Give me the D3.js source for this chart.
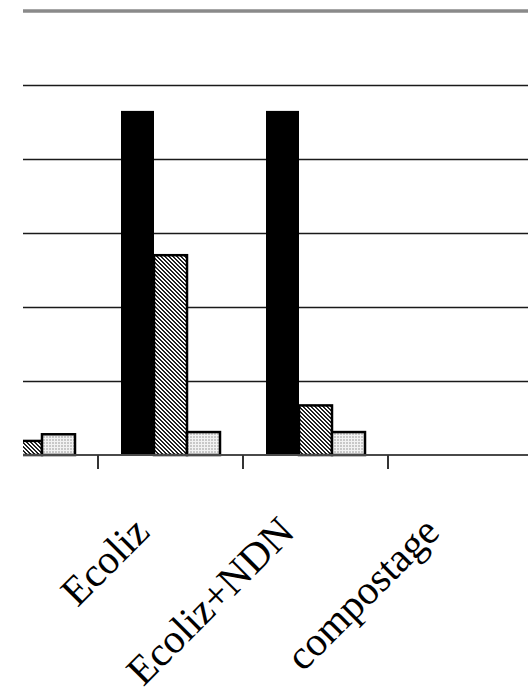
<!DOCTYPE html>
<html><head><meta charset="utf-8">
<script src="https://cdn.jsdelivr.net/npm/d3@7"></script>
<style>body{margin:0;background:#fff} svg{display:block}</style>
</head><body>
<script>
// Data (values in gridline units; the value axis labels are not visible in the picture)
const categories = ["témoin", "Ecoliz", "Ecoliz+NDN", "compostage"];
const tickLabels = ["", "Ecoliz", "Ecoliz+NDN", "compostage"];
const seriesNames = ["série 1", "série 2", "série 3"];
const serie1 = [0, 4.65, 4.65, 0];
const serie2 = [0.19, 2.70, 0.67, 0];
const serie3 = [0.28, 0.31, 0.31, 0];
const yTicks = [1, 2, 3, 4, 5];
const yMax = 6;

const W = 528, H = 696;
const plot = {left: 23, right: 528, top: 11, bottom: 455};

const svg = d3.select("body").append("svg").attr("width", W).attr("height", H);
const defs = svg.append("defs");

// dark diagonal hatch
const p1 = defs.append("pattern").attr("id", "hatch").attr("patternUnits", "userSpaceOnUse")
  .attr("width", 4).attr("height", 4);
p1.append("rect").attr("width", 4).attr("height", 4).attr("fill", "#fff");
for (let yy = 0; yy < 4; yy++) for (let xx = 0; xx < 4; xx++) {
  const m = ((xx - yy) % 4 + 4) % 4;
  if (m === 0 || m === 1) p1.append("rect").attr("x", xx).attr("y", yy).attr("width", 1).attr("height", 1).attr("fill", "#222");
}
// light dotted
const p2 = defs.append("pattern").attr("id", "dots").attr("patternUnits", "userSpaceOnUse")
  .attr("width", 3).attr("height", 3);
p2.append("rect").attr("width", 3).attr("height", 3).attr("fill", "#c8c8c8");
p2.append("rect").attr("width", 3).attr("height", 1).attr("fill", "#f2f2f2");
p2.append("rect").attr("width", 1).attr("height", 3).attr("fill", "#f2f2f2");

defs.append("clipPath").attr("id", "clip").append("rect")
  .attr("x", plot.left).attr("y", 0).attr("width", plot.right - plot.left).attr("height", plot.bottom + 20);

const x = d3.scaleBand().domain(categories).range([-47, 533]).paddingInner(0).paddingOuter(0);
const xs = d3.scaleBand().domain(seriesNames).range([0, x.bandwidth()]).paddingInner(0).paddingOuter(0.697);
const y = d3.scaleLinear().domain([0, yMax]).range([plot.bottom, plot.top]);

const g = svg.append("g").attr("clip-path", "url(#clip)");

// gridlines
g.selectAll("line.grid").data(yTicks).join("line")
  .attr("x1", plot.left).attr("x2", plot.right)
  .attr("y1", d => Math.round(y(d)) + 0.5).attr("y2", d => Math.round(y(d)) + 0.5)
  .attr("stroke", "#1a1a1a").attr("stroke-width", 1.4);
// top border
g.append("line").attr("x1", plot.left).attr("x2", plot.right)
  .attr("y1", y(yMax)).attr("y2", y(yMax))
  .attr("stroke", "#8a8a8a").attr("stroke-width", 3.5);

const series = [
  {name: seriesNames[0], values: serie1, fill: "#000", stroke: "#000", sw: 0},
  {name: seriesNames[1], values: serie2, fill: "url(#hatch)", stroke: "#000", sw: 2.5},
  {name: seriesNames[2], values: serie3, fill: "url(#dots)", stroke: "#000", sw: 2.5}
];

series.forEach(s => {
  g.selectAll(null).data(categories.map((c, i) => ({c, v: s.values[i]})).filter(d => d.v > 0)).join("rect")
    .attr("x", d => x(d.c) + xs(s.name))
    .attr("y", d => y(d.v))
    .attr("width", xs.bandwidth())
    .attr("height", d => y(0) - y(d.v))
    .attr("fill", s.fill)
    .attr("stroke", s.sw ? s.stroke : "none")
    .attr("stroke-width", s.sw);
});

// baseline
g.append("line").attr("x1", plot.left).attr("x2", plot.right)
  .attr("y1", y(0)).attr("y2", y(0)).attr("stroke", "#4a4a4a").attr("stroke-width", 2.2);

// tick marks at category boundaries
g.selectAll("line.tick").data(categories.slice(0, 3)).join("line")
  .attr("x1", d => x(d) + x.bandwidth()).attr("x2", d => x(d) + x.bandwidth())
  .attr("y1", y(0)).attr("y2", y(0) + 14)
  .attr("stroke", "#333").attr("stroke-width", 2);

// rotated category labels
svg.selectAll("text.lab").data(categories).join("text")
  .attr("class", "lab")
  .attr("transform", d => `translate(${x(d) + x.bandwidth() / 2 - 19},${y(0) + 79}) rotate(-45)`)
  .attr("text-anchor", "end")
  .attr("font-family", "'Liberation Serif', 'Times New Roman', serif")
  .attr("font-size", 41)
  .attr("fill", "#000")
  .text((d, i) => tickLabels[i]);
</script>
</body></html>
